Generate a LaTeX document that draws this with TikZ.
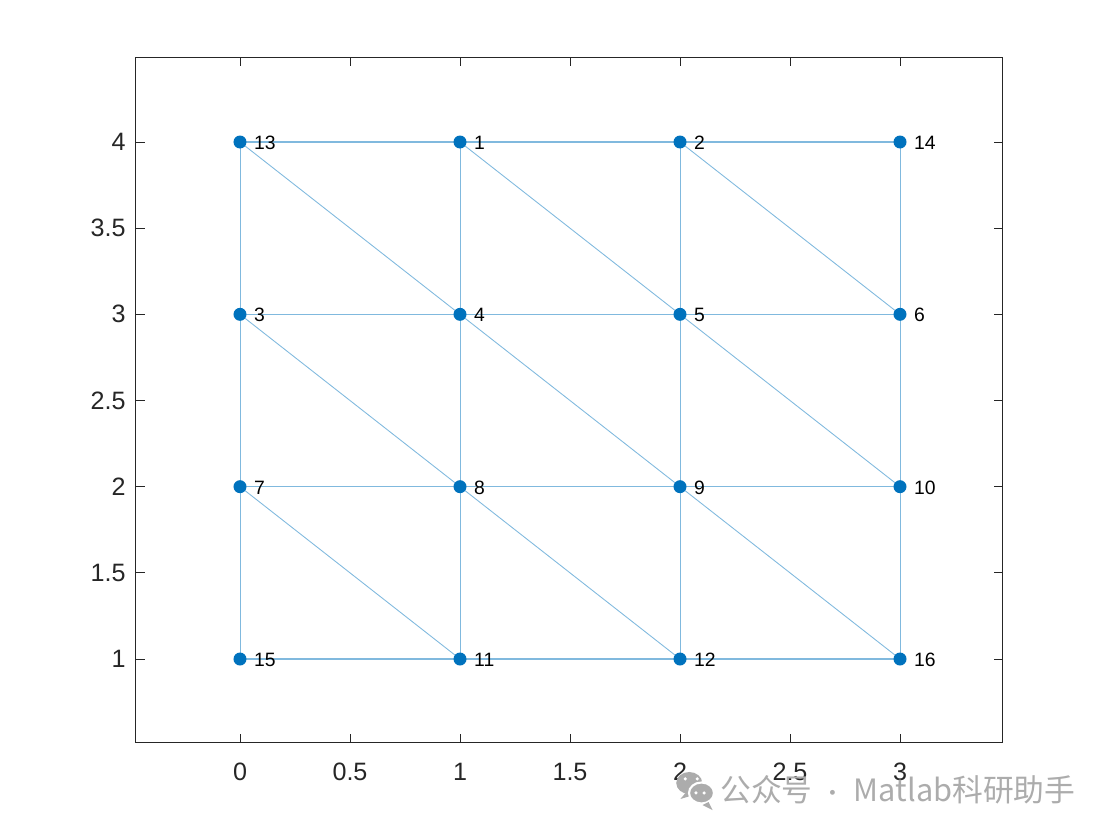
\documentclass[tikz,border=0pt]{standalone}
\usepackage{fontspec}
\setmainfont{Liberation Sans}
\newfontfamily\cjkfont{Noto Sans CJK SC}
\usetikzlibrary{positioning,calc}
\definecolor{matblue}{RGB}{0,114,189}
\definecolor{edgeblue}{RGB}{128,185,222}
\definecolor{axgray}{RGB}{38,38,38}
\definecolor{markgray}{RGB}{172,172,172}
\tikzset{
	%Define style for graph vertices
	vert/.style={
	       circle,
	       fill=matblue,
	       inner sep=0pt,
	       minimum size=0.26cm},
	vlab/.style={
	       font=\fontsize{11}{11}\selectfont,
	       inner sep=0pt,
	       text=black},
	% Define edge styles
	hedg/.style={
	       draw=edgeblue,
	       line width=0.9pt},
	edg/.style={
	       draw=edgeblue,
	       line width=0.5pt},
	axtick/.style={
	       draw=axgray,
	       line width=0.55pt},
	ticklab/.style={
	       font=\fontsize{14.3}{14.3}\selectfont,
	       inner sep=0pt,
	       text=axgray}
}
\begin{document}
\begin{tikzpicture}[x=4.4cm, y=3.4467cm] % axes in data units
		\useasboundingbox (-1.0909,-0.0155) rectangle (3.95,4.824);
		\draw[axgray, line width=0.55pt] (-0.473,0.513) rectangle (3.468,4.493);
		\foreach \x in {0,0.5,1,1.5,2,2.5,3}{
			\draw[axtick] (\x,0.513) -- ++(0,0.18cm);
			\draw[axtick] (\x,4.493) -- ++(0,-0.18cm);
			\node[ticklab] (xl\x) at (\x,0.344) {\x};
		}
		\foreach \y in {1,1.5,2,2.5,3,3.5,4}{
			\draw[axtick] (-0.473,\y) -- ++(0.18cm,0);
			\draw[axtick] (3.468,\y) -- ++(-0.18cm,0);
			\node[ticklab, anchor=east] (yl\y) at (-0.518,\y) {\y};
		}
		% vertices
		\foreach \n/\x/\y in {13/0/4, 1/1/4, 2/2/4, 14/3/4,
				3/0/3, 4/1/3, 5/2/3, 6/3/3,
				7/0/2, 8/1/2, 9/2/2, 10/3/2,
				15/0/1, 11/1/1, 12/2/1, 16/3/1}{
			\coordinate (v\n) at (\x,\y);
		}
		% edges
		\foreach \a/\b in {13/1, 1/2, 2/14, 3/4, 4/5, 5/6, 7/8, 8/9, 9/10, 15/11, 11/12, 12/16}{
			\draw[hedg] (v\a) -- (v\b);
		}
		\foreach \a/\b in {13/3, 3/7, 7/15, 1/4, 4/8, 8/11, 2/5, 5/9, 9/12, 14/6, 6/10, 10/16,
				13/4, 4/9, 9/16, 1/5, 5/10, 2/6, 3/8, 8/12, 7/11}{
			\draw[edg] (v\a) -- (v\b);
		}
		\foreach \n in {13,1,2,14,3,4,5,6,7,8,9,10,15,11,12,16}{
			\node[vert] (n\n) at (v\n) {};
			\node[vlab, right=0.14cm of n\n.east, yshift=-0.02cm] (l\n) {\n};
		}
		% watermark
		\fill[markgray] (2.042,0.2806) ellipse [x radius=0.26cm, y radius=0.22cm];
		\fill[markgray] (2.029,0.2284) -- ++(-0.12cm,-0.14cm) -- ++(0.2cm,0.06cm) -- cycle;
		\fill[white] (2.0239,0.3039) circle (0.035cm);
		\fill[white] (2.0784,0.3039) circle (0.035cm);
		\draw[white, line width=1.2pt, fill=markgray] (2.0977,0.2226) ellipse [x radius=0.25cm, y radius=0.21cm];
		\fill[markgray] (2.13,0.17) -- ++(0.08cm,-0.16cm) -- ++(-0.2cm,0.1cm) -- cycle;
		\fill[white] (2.0727,0.2226) circle (0.035cm);
		\fill[white] (2.1091,0.2226) circle (0.035cm);
		\node[anchor=west, inner sep=0pt, text=markgray, font=\cjkfont\fontsize{17.5}{17.5}\selectfont] (wm) at (2.1818,0.2398) {公众号\hspace{0.3em}{\fontsize{13}{13}\selectfont ·}\hspace{0.3em}Matlab科研助手};
	\end{tikzpicture}
\end{document}
